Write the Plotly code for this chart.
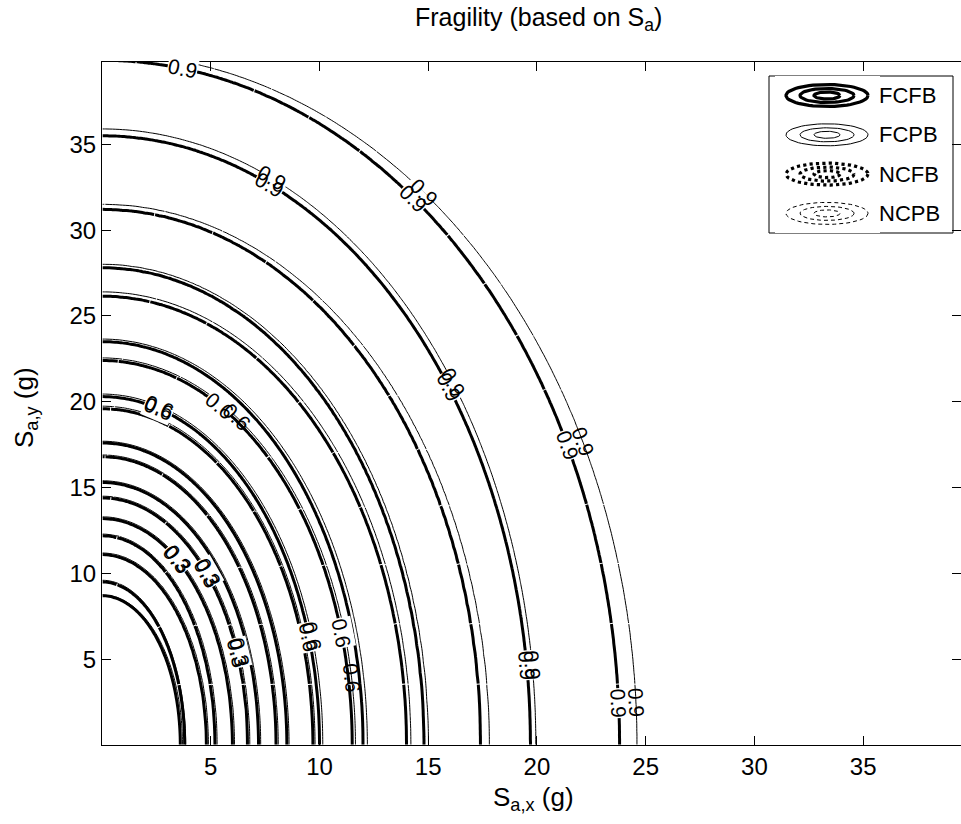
import numpy as np
import plotly.graph_objects as go

# ---------------- data ----------------
LEVELS = [0.1, 0.2, 0.3, 0.4, 0.5, 0.6, 0.7, 0.8, 0.9]

# axis intercepts of each fragility contour, Sa in g
FCFB_X = [3.6, 4.8, 6.0, 7.2, 8.5, 10.0, 12.0, 14.8, 19.7]
FCFB_Y = [8.7, 11.1, 13.2, 15.3, 17.6, 20.3, 23.5, 27.8, 35.5]
FCPB_X = [3.7, 4.9, 6.1, 7.3, 8.6, 10.15, 12.2, 15.0, 19.95]
FCPB_Y = [8.75, 11.2, 13.3, 15.4, 17.7, 20.45, 23.65, 28.0, 35.9]
NCFB_X = [3.8, 5.2, 6.7, 8.0, 9.7, 11.5, 14.0, 17.4, 23.8]
NCFB_Y = [9.5, 12.2, 14.4, 16.8, 19.6, 22.4, 26.15, 31.2, 39.9]
NCPB_X = [3.85, 5.3, 6.8, 8.1, 9.8, 11.65, 14.2, 17.8, 24.6]
NCPB_Y = [9.6, 12.3, 14.5, 16.9, 19.75, 22.55, 26.4, 31.5, 40.3]

# where the contour labels sit along each labelled contour (angle, degrees)
FC_LABEL_ANGLES = {0.3: [55], 0.6: [75, 18], 0.9: [67, 36, 7.5]}
NCFB_LABEL_ANGLES = {0.3: [44, 22], 0.6: [62, 17], 0.9: [81, 53, 26, 3.5]}
NCPB_LABEL_ANGLES = {0.3: [44, 22], 0.6: [58, 10], 0.9: [81, 53, 26, 3.5]}

X_TICKS = [5, 10, 15, 20, 25, 30, 35]
Y_TICKS = [5, 10, 15, 20, 25, 30, 35]
X_RANGE = [0, 39.5]
Y_RANGE = [0, 39.8]
SERIES_NAMES = ["FCFB", "FCPB", "NCFB", "NCPB"]

FONT = "Liberation Sans, Arial, Helvetica, sans-serif"

W, H = 961, 824
L_, R_, T_, B_ = 102, 0, 62, 79
PW, PH = W - L_ - R_, H - T_ - B_
SX = PW / (X_RANGE[1] - X_RANGE[0])
SY = PH / (Y_RANGE[1] - Y_RANGE[0])

# ---------------- fragility surface from contour intercepts ----------------
xg = np.linspace(0.02, 40.0, 261)
yg = np.linspace(0.02, 40.5, 261)
XX, YY = np.meshgrid(xg, yg)
LV = np.array(LEVELS)


def surface(ax, by):
    a = np.array(ax)[:, None, None]
    b = np.array(by)[:, None, None]
    s = -0.5 * np.log((XX / a) ** 2 + (YY / b) ** 2)
    i = np.clip(np.sum(s < 0, axis=0), 1, len(LEVELS) - 1)
    s0 = np.take_along_axis(s, (i - 1)[None], 0)[0]
    s1 = np.take_along_axis(s, i[None], 0)[0]
    z = LV[i - 1] + (0 - s0) / (s1 - s0) * (LV[i] - LV[i - 1])
    return np.round(z, 4)


data = {
    "FCFB": (FCFB_X, FCFB_Y, FC_LABEL_ANGLES),
    "FCPB": (FCPB_X, FCPB_Y, FC_LABEL_ANGLES),
    "NCFB": (NCFB_X, NCFB_Y, NCFB_LABEL_ANGLES),
    "NCPB": (NCPB_X, NCPB_Y, NCPB_LABEL_ANGLES),
}
styles = {
    "FCFB": dict(width=3.0, dash="solid"),
    "FCPB": dict(width=1.0, dash="solid"),
    "NCFB": dict(width=3.0, dash="60px,1px"),
    "NCPB": dict(width=1.0, dash="60px,1px"),
}

fig = go.Figure()
for name in SERIES_NAMES:
    ax, by, _ = data[name]
    fig.add_trace(go.Contour(
        x=xg, y=yg, z=surface(ax, by),
        contours=dict(start=LEVELS[0], end=LEVELS[-1] + 1e-6, size=0.1,
                      coloring="none", showlabels=False),
        line=dict(color="black", smoothing=1, **styles[name]),
        showscale=False, hoverinfo="skip", showlegend=False, name=name,
    ))

# ---------------- contour labels (rotated along the lines) ----------------
label_annots_bg, label_annots_fg = [], []
for name in SERIES_NAMES:
    ax, by, angles = data[name]
    for lev, phis in angles.items():
        k = LEVELS.index(lev)
        a, b = ax[k], by[k]
        for phi in phis:
            p = np.radians(phi)
            x, y = a * np.cos(p), b * np.sin(p)
            tx, ty = -a * np.sin(p) * SX, -b * np.cos(p) * SY
            ang = np.degrees(np.arctan2(ty, tx))
            if ang > 90:
                ang -= 180
            if ang < -90:
                ang += 180
            ann = dict(x=x, y=y, xref="x", yref="y", text=f"{lev:.1f}",
                       showarrow=False, textangle=ang,
                       font=dict(family=FONT, size=21, color="black"),
                       xanchor="center", yanchor="middle", borderpad=0)
            if name.endswith("FB"):
                ann["bgcolor"] = "white"
                label_annots_bg.append(ann)
            else:
                label_annots_fg.append(ann)
for ann in label_annots_bg + label_annots_fg:
    fig.add_annotation(**ann)

# ---------------- legend (MATLAB-style contour icons) ----------------


def px2paper_x(px):
    return (px - L_) / PW


def px2paper_y(py):
    return (H - B_ - py) / PH


box = dict(x0=769, x1=953, y0=76, y1=233)
rows = [95.5, 134.8, 174.1, 213.4]
icon_cx = 827
icon_style = {
    "FCFB": dict(width=3.2, dash="solid"),
    "FCPB": dict(width=1.0, dash="solid"),
    "NCFB": dict(width=3.2, dash="dot"),
    "NCPB": dict(width=1.0, dash="4px,3px"),
}
t = np.linspace(0, 2 * np.pi, 60)
for name, cy in zip(SERIES_NAMES, rows):
    for rx, ry in ((41, 11), (27, 7), (13, 3.5)):
        fig.add_trace(go.Scatter(
            x=icon_cx + rx * np.cos(t), y=cy + ry * np.sin(t), mode="lines",
            line=dict(color="black", **icon_style[name]),
            xaxis="x2", yaxis="y2", showlegend=False, hoverinfo="skip"))
    fig.add_annotation(x=px2paper_x(877), y=px2paper_y(cy), xref="paper", yref="paper",
                       text=name, showarrow=False, xanchor="left", yanchor="middle",
                       font=dict(family=FONT, size=22, color="black"))

fig.add_shape(type="rect", xref="paper", yref="paper",
              x0=px2paper_x(box["x0"]), x1=px2paper_x(box["x1"]),
              y0=px2paper_y(box["y1"]), y1=px2paper_y(box["y0"]),
              line=dict(color="black", width=1), fillcolor="white", layer="below")

# ---------------- axes / layout ----------------
axis_common = dict(showline=True, linecolor="black", linewidth=1, mirror="ticks",
                   ticks="inside", ticklen=9, tickcolor="black", tickwidth=1,
                   showgrid=False, zeroline=False,
                   tickfont=dict(family=FONT, size=24, color="black"))

fig.update_layout(
    width=W, height=H,
    margin=dict(l=L_, r=R_, t=T_, b=B_, pad=0),
    plot_bgcolor="white", paper_bgcolor="white",
    xaxis=dict(range=X_RANGE, tickvals=X_TICKS, domain=[0, 1], **axis_common),
    yaxis=dict(range=Y_RANGE, tickvals=Y_TICKS, domain=[0, 1], **axis_common),
    xaxis2=dict(domain=[px2paper_x(775), px2paper_x(880)], range=[775, 880],
                anchor="y2", visible=False, fixedrange=True),
    yaxis2=dict(domain=[px2paper_y(233), px2paper_y(76)], range=[233, 76],
                anchor="x2", visible=False, fixedrange=True),
    showlegend=False,
)

fig.add_annotation(x=px2paper_x(538), y=px2paper_y(19), xref="paper", yref="paper",
                   text="Fragility (based on S<sub>a</sub>)", showarrow=False,
                   xanchor="center", yanchor="middle",
                   font=dict(family=FONT, size=25, color="black"))
fig.add_annotation(x=px2paper_x(533), y=px2paper_y(798), xref="paper", yref="paper",
                   text="S<sub>a,x</sub> (g)", showarrow=False,
                   xanchor="center", yanchor="middle",
                   font=dict(family=FONT, size=26, color="black"))
fig.add_annotation(x=px2paper_x(25), y=px2paper_y(408), xref="paper", yref="paper",
                   text="S<sub>a,y</sub> (g)", showarrow=False, textangle=-90,
                   xanchor="center", yanchor="middle",
                   font=dict(family=FONT, size=26, color="black"))

fig.write_html("out.html")
